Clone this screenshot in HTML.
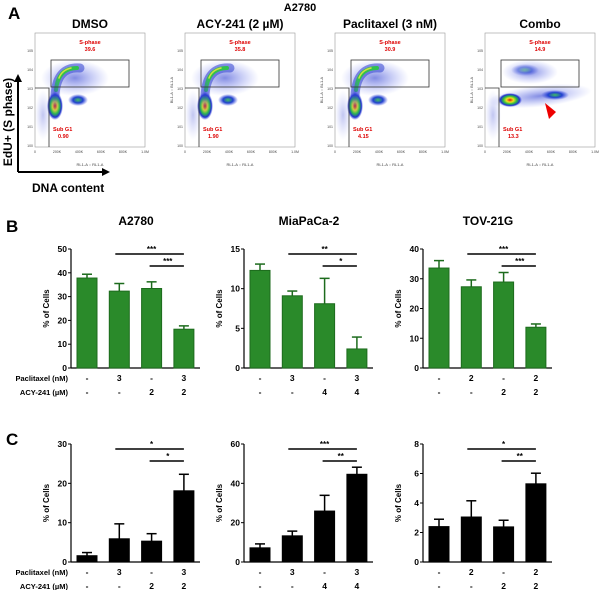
<!DOCTYPE html>
<html><head><meta charset="utf-8"><style>
body{margin:0;background:#fff;}
svg{display:block;font-family:"Liberation Sans",Arial,sans-serif;}
</style></head><body>
<svg id="fig" width="600" height="590" viewBox="0 0 600 590" xmlns="http://www.w3.org/2000/svg">
<defs>
<radialGradient id="hot" cx="50%" cy="50%" r="50%">
<stop offset="0" stop-color="#e01010"/><stop offset="0.3" stop-color="#f0e020"/><stop offset="0.55" stop-color="#30c040"/><stop offset="0.8" stop-color="#2030d0"/><stop offset="1" stop-color="#4050e0" stop-opacity="0"/>
</radialGradient>
<radialGradient id="warm" cx="50%" cy="50%" r="50%">
<stop offset="0" stop-color="#40c060"/><stop offset="0.5" stop-color="#2040d0"/><stop offset="1" stop-color="#4050e0" stop-opacity="0"/>
</radialGradient>
<radialGradient id="cool" cx="50%" cy="50%" r="50%">
<stop offset="0" stop-color="#3040d0" stop-opacity="0.6"/><stop offset="1" stop-color="#6070f0" stop-opacity="0"/>
</radialGradient>
<marker id="ah" markerWidth="8" markerHeight="8" refX="4" refY="4" orient="auto" markerUnits="userSpaceOnUse"><path d="M0,0 L8,4 L0,8 Z" fill="#000"/></marker>
</defs>
<text x="8" y="19" font-size="17" font-weight="bold">A</text>
<text x="300" y="11" font-size="11" font-weight="bold" text-anchor="middle">A2780</text>
<line x1="18" y1="172" x2="18" y2="78" stroke="#000" stroke-width="2" marker-end="url(#ah)"/>
<line x1="18" y1="172" x2="106" y2="172" stroke="#000" stroke-width="2" marker-end="url(#ah)"/>
<text transform="translate(12,122) rotate(-90)" font-size="12" font-weight="bold" text-anchor="middle">EdU+ (S phase)</text>
<text x="32" y="192" font-size="12" font-weight="bold">DNA content</text>
<text x="6" y="232" font-size="17" font-weight="bold">B</text>
<text x="6" y="445" font-size="17" font-weight="bold">C</text>
<g id="flow"></g>
<g id="bars"></g>
</svg>
<script>
// ---- Panel A flow data ----
const flowTitles=["DMSO","ACY-241 (2 \u00b5M)","Paclitaxel (3 nM)","Combo"];
const flowSphase=["39.6","35.8","30.9","14.9"];
const flowSubG1=["0.90","1.90","4.15","13.3"];
const flowX0=[35,185,335,485];
// ---- Panel B/C data ----
const bCells=["A2780","MiaPaCa-2","TOV-21G"];
const bVals=[[37.8,32.3,33.4,16.3],[12.3,9.1,8.1,2.4],[33.6,27.3,28.9,13.7]];
const bErrs=[[1.6,3.2,2.8,1.4],[0.8,0.6,3.2,1.5],[2.5,2.3,3.2,1.1]];
const bMax=[50,15,40];
const bTicks=[[0,10,20,30,40,50],[0,5,10,15],[0,10,20,30,40]];
const bSig=[["***","***"],["**","*"],["***","***"]];
const cVals=[[1.6,5.9,5.3,18.1],[7.2,13.3,25.9,44.6],[2.4,3.05,2.38,5.3]];
const cErrs=[[0.8,3.8,1.9,4.2],[2.0,2.4,8.0,3.6],[0.5,1.1,0.45,0.72]];
const cMax=[30,60,8];
const cTicks=[[0,10,20,30],[0,20,40,60],[0,2,4,6,8]];
const cSig=[["*","*"],["***","**"],["*","**"]];
const paclRow=[["-","3","-","3"],["-","3","-","3"],["-","2","-","2"]];
const acyRow=[["-","-","2","2"],["-","-","4","4"],["-","-","2","2"]];

const NS="http://www.w3.org/2000/svg";
function mk(tag,attrs,parent,text){const e=document.createElementNS(NS,tag);for(const k in attrs)e.setAttribute(k,attrs[k]);if(text!==undefined)e.textContent=text;parent.appendChild(e);return e;}

const flow=document.getElementById('flow');
flowX0.forEach((x0,i)=>{
  const g=mk('g',{},flow);
  
  
  const t=mk('text',{x:x0+55,y:28,'font-size':12,'font-weight':'bold','text-anchor':'middle'},g,flowTitles[i]);
  
  
  const fr=mk('rect',{x:x0,y:33,width:110,height:114,fill:'none',stroke:'#999','stroke-width':0.6},g);
  
  
  if(i<3){
    mk('ellipse',{cx:x0+40,cy:78,rx:34,ry:18,fill:'url(#cool)'},g);
    mk('path',{d:`M${x0+20},95 Q${x0+22},66 ${x0+45},68`,fill:'none',stroke:'#3040d0','stroke-width':9,'stroke-opacity':0.55,'stroke-linecap':'round'},g);
    mk('path',{d:`M${x0+21},90 Q${x0+23},68 ${x0+42},68`,fill:'none',stroke:'#30c050','stroke-width':4,'stroke-linecap':'round'},g);
    mk('path',{d:`M${x0+24},78 Q${x0+27},70 ${x0+36},68`,fill:'none',stroke:'#d0e040','stroke-width':1.5,'stroke-linecap':'round'},g);
    mk('ellipse',{cx:x0+43,cy:100,rx:10,ry:6,fill:'url(#warm)'},g);
    mk('ellipse',{cx:x0+20,cy:106,rx:8,ry:14,fill:'url(#hot)'},g);
    mk('ellipse',{cx:x0+20,cy:95,rx:6,ry:22,fill:'url(#cool)'},g);
  } else {
    mk('ellipse',{cx:x0+45,cy:72,rx:28,ry:12,fill:'url(#cool)'},g);
    mk('ellipse',{cx:x0+40,cy:70,rx:14,ry:6,fill:'url(#warm)','fill-opacity':0.5},g);
    mk('ellipse',{cx:x0+55,cy:96,rx:52,ry:11,fill:'url(#cool)',transform:`rotate(-6 ${x0+55} 96)`},g);
    mk('ellipse',{cx:x0+25,cy:100,rx:12,ry:7,fill:'url(#hot)'},g);
    mk('ellipse',{cx:x0+70,cy:95,rx:14,ry:5,fill:'url(#warm)'},g);
    const ar=mk('polygon',{points:`${x0+60},103 ${x0+71},112 ${x0+64},119`,fill:'#e00'},g);
    
    
  }
  mk('ellipse',{cx:x0+8,cy:115,rx:8,ry:25,fill:'url(#cool)','fill-opacity':0.5},g);
  const sg=mk('rect',{x:x0+16,y:60,width:78,height:27,fill:'none',stroke:'#333','stroke-width':0.8},g);
  
  
  const sb=mk('polyline',{points:`${x0},88 ${x0+14},88 ${x0+14},147`,fill:'none',stroke:'#333','stroke-width':0.8},g);
  
  
  mk('text',{x:x0+55,y:44,'font-size':5.5,'font-weight':'bold',fill:'#d00','text-anchor':'middle'},g,'S-phase');
  mk('text',{x:x0+55,y:51,'font-size':5.5,'font-weight':'bold',fill:'#d00','text-anchor':'middle'},g,flowSphase[i]);
  mk('text',{x:x0+18,y:131,'font-size':5.5,'font-weight':'bold',fill:'#d00'},g,'Sub G1');
  mk('text',{x:x0+23,y:138,'font-size':5.5,'font-weight':'bold',fill:'#d00'},g,flowSubG1[i]);
  ['0','200K','400K','600K','800K','1.0M'].forEach((l,k)=>mk('text',{x:x0+k*22,y:153,'font-size':3.5,'text-anchor':'middle',fill:'#444'},g,l));
  [0,1,2,3,4,5].forEach(k=>mk('text',{x:x0-2,y:147-k*19,'font-size':3.5,'text-anchor':'end',fill:'#444'},g,'10'+k));
  mk('text',{x:x0+55,y:166,'font-size':4,'text-anchor':'middle',fill:'#444'},g,'RL1-A :: RL1-A');
  if(i>0) mk('text',{transform:`translate(${x0-12},90) rotate(-90)`,'font-size':4,'text-anchor':'middle',fill:'#444'},g,'BL1-A :: BL1-A');
});

const bars=document.getElementById('bars');
const axX=[71,244,423];
function panel(j,vals,errs,max,ticks,sig,y0,yTop,color,row,title){
  const g=mk('g',{},bars);
  
  
  const ax=axX[j], len=129, step=32.3, bw=20;
  const ys=v=>y0-(v/max)*(y0-yTop);
  const xs=k=>ax+16+k*step;
  const sc=color==='#000'?'#000':'#1d6b1d';
  if(title){const tt=mk('text',{x:ax+65,y:225,'font-size':12,'font-weight':'bold','text-anchor':'middle'},g,title);
    
    }
  mk('line',{x1:ax,y1:y0,x2:ax,y2:yTop,stroke:'#000','stroke-width':1.2},g);
  mk('line',{x1:ax,y1:y0,x2:ax+len,y2:y0,stroke:'#000','stroke-width':1.2},g);
  ticks.forEach(t=>{mk('line',{x1:ax-3,y1:ys(t),x2:ax,y2:ys(t),stroke:'#000'},g);
    mk('text',{x:ax-4,y:ys(t)+3,'font-size':8.5,'font-weight':'bold','text-anchor':'end'},g,String(t));});
  mk('text',{transform:`translate(${ax-22},${(y0+yTop)/2}) rotate(-90)`,'font-size':8,'font-weight':'bold','text-anchor':'middle'},g,'% of Cells');
  vals.forEach((v,k)=>{
    const x=xs(k);
    const r=mk('rect',{x:x-bw/2,y:ys(v),width:bw,height:y0-ys(v),fill:color,stroke:sc,'stroke-width':1},g);
    
    
    const e=ys(v+errs[k]);
    mk('line',{x1:x,y1:ys(v),x2:x,y2:e,stroke:sc,'stroke-width':1.5},g);
    mk('line',{x1:x-5,y1:e,x2:x+5,y2:e,stroke:sc,'stroke-width':1.5},g);
    mk('text',{x:x,y:y0+13,'font-size':8.5,'font-weight':'bold','text-anchor':'middle'},g,paclRow[j][k]);
    mk('text',{x:x,y:y0+27,'font-size':8.5,'font-weight':'bold','text-anchor':'middle'},g,acyRow[j][k]);
  });
  const l1=yTop+5,l2=yTop+17;
  mk('line',{x1:xs(1)-4,y1:l1,x2:xs(3),y2:l1,stroke:'#000','stroke-width':1.5},g);
  mk('text',{x:(xs(1)+xs(3))/2,y:l1-2,'font-size':8,'font-weight':'bold','text-anchor':'middle'},g,sig[0]);
  mk('line',{x1:xs(2)-2,y1:l2,x2:xs(3),y2:l2,stroke:'#000','stroke-width':1.5},g);
  mk('text',{x:(xs(2)+xs(3))/2,y:l2-2,'font-size':8,'font-weight':'bold','text-anchor':'middle'},g,sig[1]);
  if(j===0){
    mk('text',{x:68,y:y0+13,'font-size':7.5,'font-weight':'bold','text-anchor':'end'},g,'Paclitaxel (nM)');
    mk('text',{x:68,y:y0+27,'font-size':7.5,'font-weight':'bold','text-anchor':'end'},g,'ACY-241 (\u00b5M)');
  }
}
for(let j=0;j<3;j++){
  panel(j,bVals[j],bErrs[j],bMax[j],bTicks[j],bSig[j],368,249,'#2a8a2a','b',bCells[j]);
  panel(j,cVals[j],cErrs[j],cMax[j],cTicks[j],cSig[j],562,444,'#000','c',null);
}
</script>
</body></html>
